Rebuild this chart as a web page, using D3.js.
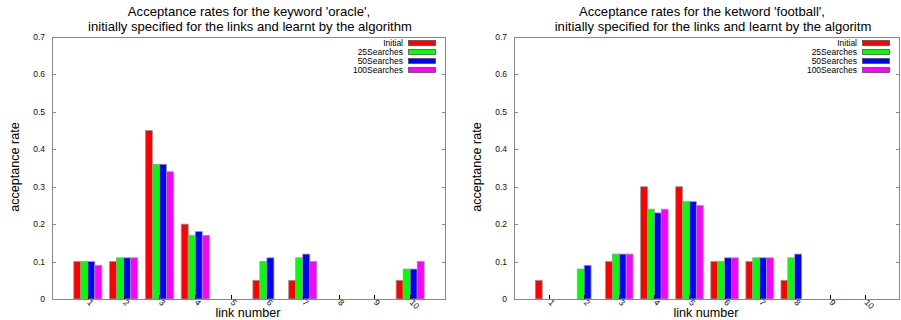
<!DOCTYPE html>
<html>
<head>
<meta charset="utf-8">
<script src="https://cdn.jsdelivr.net/npm/d3@7"></script>
<style>
  body { margin: 0; background: #fff; }
  svg { display: block; font-family: "Liberation Sans", Arial, sans-serif; }
</style>
</head>
<body>
<svg id="chart" width="901" height="320"></svg>
<script>
// links 1..10
const links = [1, 2, 3, 4, 5, 6, 7, 8, 9, 10];
const seriesNames = ["Initial", "25Searches", "50Searches", "100Searches"];
const seriesColors = ["#ff0000", "#00ff00", "#0000ff", "#ff00ff"];
const yTicks = [0, 0.1, 0.2, 0.3, 0.4, 0.5, 0.6, 0.7];

// keyword 'oracle'
const oracleInitial = [0.10, 0.10, 0.45, 0.20, 0, 0.05, 0.05, 0, 0, 0.05];
const oracle25 = [0.10, 0.11, 0.36, 0.17, 0, 0.10, 0.11, 0, 0, 0.08];
const oracle50 = [0.10, 0.11, 0.36, 0.18, 0, 0.11, 0.12, 0, 0, 0.08];
const oracle100 = [0.09, 0.11, 0.34, 0.17, 0, 0, 0.10, 0, 0, 0.10];

// keyword 'football'
const footballInitial = [0.05, 0, 0.10, 0.30, 0.30, 0.10, 0.10, 0.05, 0, 0];
const football25 = [0, 0.08, 0.12, 0.24, 0.26, 0.10, 0.11, 0.11, 0, 0];
const football50 = [0, 0.09, 0.12, 0.23, 0.26, 0.11, 0.11, 0.12, 0, 0];
const football100 = [0, 0, 0.12, 0.24, 0.25, 0.11, 0.11, 0, 0, 0];

const svg = d3.select("#chart");

function drawPanel(opts) {
  const x = d3.scaleLinear().domain([0, 11]).range([opts.left, opts.right]);
  const y = d3.scaleLinear().domain([0, 0.7]).range([299, 37]);
  const g = svg.append("g");
  const bw = 0.196; // bar width in link units

  // bars
  opts.series.forEach((vals, j) => {
    g.selectAll(null)
      .data(vals.map((v, i) => ({ link: links[i], v: v })).filter(d => d.v > 0))
      .enter()
      .append("rect")
      .attr("x", d => x(d.link + (j - 2) * bw))
      .attr("y", d => y(d.v))
      .attr("width", x(bw) - x(0))
      .attr("height", d => y(0) - y(d.v))
      .attr("fill", seriesColors[j])
      .attr("stroke", "#999")
      .attr("stroke-width", 0.8);
  });

  // tick marks (inward, mirrored on the right)
  const tk = g.append("g").attr("stroke", "#888").attr("stroke-width", 1);
  yTicks.forEach(t => {
    const ty = Math.round(y(t)) + 0.5;
    tk.append("line").attr("x1", opts.left).attr("x2", opts.left + 4).attr("y1", ty).attr("y2", ty);
    tk.append("line").attr("x1", opts.right).attr("x2", opts.right - 4).attr("y1", ty).attr("y2", ty);
  });
  links.forEach(l => {
    const tx = Math.round(x(l)) + 0.5;
    tk.append("line").attr("x1", tx).attr("x2", tx)
      .attr("y1", y(0)).attr("y2", y(0) - 4).attr("stroke", "#000");
  });

  // frame
  g.append("rect")
    .attr("x", opts.left + 0.5).attr("y", 37.5)
    .attr("width", opts.right - opts.left - 1).attr("height", 299 - 37)
    .attr("fill", "none").attr("stroke", "#888").attr("stroke-width", 1);

  // y tick labels
  g.selectAll(null).data(yTicks).enter().append("text")
    .attr("x", opts.left - 7).attr("y", t => y(t) + 3)
    .attr("text-anchor", "end").attr("font-size", 8.5).attr("fill", "#111")
    .text(t => t === 0 ? "0" : d3.format(".1f")(t));

  // x tick labels, rotated
  g.selectAll(null).data(links).enter().append("text")
    .attr("transform", l => "translate(" + (x(l) - 1) + ",303) rotate(45)")
    .attr("font-size", 8.5).attr("fill", "#111")
    .text(l => l);

  // axis titles
  g.append("text").attr("x", (opts.left + opts.right) / 2 - 1).attr("y", 317)
    .attr("text-anchor", "middle").attr("font-size", 12.6).text("link number");
  g.append("text")
    .attr("transform", "translate(" + (opts.left - 33) + ",167) rotate(-90)")
    .attr("text-anchor", "middle").attr("font-size", 12.6).text("acceptance rate");

  // title
  opts.title.forEach((line, i) => {
    g.append("text").attr("x", (opts.left + opts.right) / 2 + opts.titleDx[i])
      .attr("y", 15.5 + i * 15).attr("text-anchor", "middle")
      .attr("font-size", 13.1).text(line);
  });

  // legend
  const legendRight = opts.right - 10;
  seriesNames.forEach((name, j) => {
    const ly = 43 + j * 9;
    g.append("text").attr("x", legendRight - 33).attr("y", ly + 3)
      .attr("text-anchor", "end").attr("font-size", 8.5).text(name);
    g.append("rect").attr("x", legendRight - 27.5).attr("y", ly - 2.5)
      .attr("width", 27).attr("height", 5)
      .attr("fill", seriesColors[j]).attr("stroke", "#444").attr("stroke-width", 0.7);
  });
}

drawPanel({
  left: 52, right: 446,
  series: [oracleInitial, oracle25, oracle50, oracle100],
  title: ["Acceptance rates for the keyword 'oracle',",
          "initially specified for the links and learnt by the algorithm"],
  titleDx: [0, 1]
});

drawPanel({
  left: 514, right: 900,
  series: [footballInitial, football25, football50, football100],
  title: ["Acceptance rates for the ketword 'football',",
          "initially specified for the links and learnt by the algoritm"],
  titleDx: [-5, 6]
});
</script>
</body>
</html>
